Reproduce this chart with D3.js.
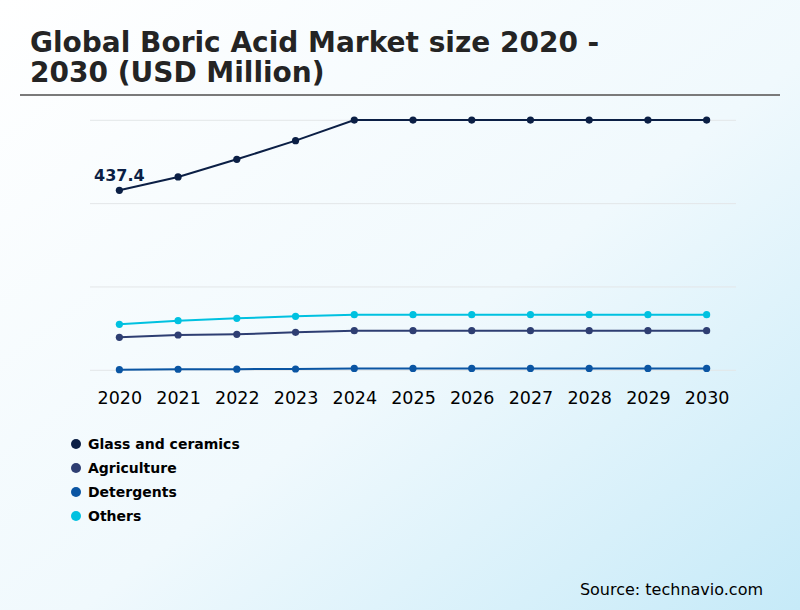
<!DOCTYPE html>
<html>
<head>
<meta charset="utf-8">
<script src="https://cdn.jsdelivr.net/npm/d3@7"></script>
<style>
  html, body { margin: 0; padding: 0; }
  svg { display: block; font-family: "DejaVu Sans", sans-serif; }
</style>
</head>
<body>
<div id="chart"></div>
<script>
// data
var years = ["2020", "2021", "2022", "2023", "2024", "2025", "2026", "2027", "2028", "2029", "2030"];
var glassCeramics = [437.4, 469.8, 512.7, 558, 608, 608, 608, 608, 608, 608, 608];
var agriculture = [80.2, 85.8, 87.5, 92.3, 96.2, 96.2, 96.2, 96.2, 96.2, 96.2, 96.2];
var detergents = [1.5, 2.5, 2.8, 3.2, 4.5, 4.5, 4.5, 4.5, 4.5, 4.5, 4.5];
var others = [111.8, 120.5, 126.4, 131.2, 135.1, 135.1, 135.1, 135.1, 135.1, 135.1, 135.1];
var seriesNames = ["Glass and ceramics", "Agriculture", "Detergents", "Others"];
var gridTicks = [0, 202.5, 405, 607.5];
var labelText = "437.4";

var W = 800, H = 610;
var colors = ["#0b1f45", "#2e3e72", "#0a55a3", "#00c1e0"];
var allSeries = [glassCeramics, agriculture, detergents, others];

var svg = d3.select("#chart").append("svg")
    .attr("width", W)
    .attr("height", H);

// background
var defs = svg.append("defs");
var grad = defs.append("linearGradient")
    .attr("id", "bg")
    .attr("x1", "0%").attr("y1", "0%")
    .attr("x2", "100%").attr("y2", "100%");
grad.append("stop").attr("offset", "0%").attr("stop-color", "#ffffff");
grad.append("stop").attr("offset", "55%").attr("stop-color", "#f0f9fd");
grad.append("stop").attr("offset", "100%").attr("stop-color", "#c6eaf8");
svg.append("rect").attr("width", W).attr("height", H).attr("fill", "url(#bg)");

// title
var title = svg.append("text")
    .attr("x", 30)
    .attr("font-size", 28)
    .attr("font-weight", "bold")
    .attr("fill", "#242424");
title.append("tspan").attr("x", 30).attr("y", 52).text("Global Boric Acid Market size 2020 -");
title.append("tspan").attr("x", 30).attr("y", 82).text("2030 (USD Million)");

svg.append("line")
    .attr("x1", 20).attr("x2", 780)
    .attr("y1", 95).attr("y2", 95)
    .attr("stroke", "#7a7a7a")
    .attr("stroke-width", 2);

// scales
var x = d3.scalePoint().domain(years).range([90, 736]).padding(0.5);
var y = d3.scaleLinear().domain([0, 607.5]).range([370.3, 120.3]);

// gridlines
svg.append("g").selectAll("line")
    .data(gridTicks)
    .enter().append("line")
    .attr("x1", 90).attr("x2", 736)
    .attr("y1", function(d) { return y(d); })
    .attr("y2", function(d) { return y(d); })
    .attr("stroke", "#e3e6e8")
    .attr("stroke-width", 1);

// x axis
var xAxis = svg.append("g")
    .attr("transform", "translate(0,371)")
    .call(d3.axisBottom(x).tickSize(0).tickPadding(21));
xAxis.select(".domain").remove();
xAxis.selectAll("text")
    .attr("font-family", "DejaVu Sans, sans-serif")
    .attr("font-size", 17.5)
    .attr("fill", "#000");

// lines and points
var line = d3.line()
    .x(function(d, i) { return x(years[i]); })
    .y(function(d) { return y(d); });

var order = [2, 1, 3, 0];
order.forEach(function(s) {
    var vals = allSeries[s];
    svg.append("path")
        .datum(vals)
        .attr("d", line)
        .attr("fill", "none")
        .attr("stroke", colors[s])
        .attr("stroke-width", 2);
    svg.append("g").selectAll("circle")
        .data(vals)
        .enter().append("circle")
        .attr("cx", function(d, i) { return x(years[i]); })
        .attr("cy", function(d) { return y(d); })
        .attr("r", 3.6)
        .attr("fill", colors[s]);
});

// value label
svg.append("text")
    .attr("x", x(years[0]))
    .attr("y", y(glassCeramics[0]) - 9)
    .attr("text-anchor", "middle")
    .attr("font-size", 16)
    .attr("font-weight", "bold")
    .attr("fill", colors[0])
    .text(labelText);

// legend
var legend = svg.append("g").selectAll("g")
    .data(seriesNames)
    .enter().append("g")
    .attr("transform", function(d, i) { return "translate(76," + (444 + i * 24) + ")"; });
legend.append("circle")
    .attr("r", 5)
    .attr("fill", function(d, i) { return colors[i]; });
legend.append("text")
    .attr("x", 12)
    .attr("y", 5)
    .attr("font-size", 14)
    .attr("font-weight", "bold")
    .attr("fill", "#000")
    .text(function(d) { return d; });

// source
svg.append("text")
    .attr("x", 763)
    .attr("y", 595)
    .attr("text-anchor", "end")
    .attr("font-size", 16)
    .attr("fill", "#000")
    .text("Source: technavio.com");
</script>
</body>
</html>
